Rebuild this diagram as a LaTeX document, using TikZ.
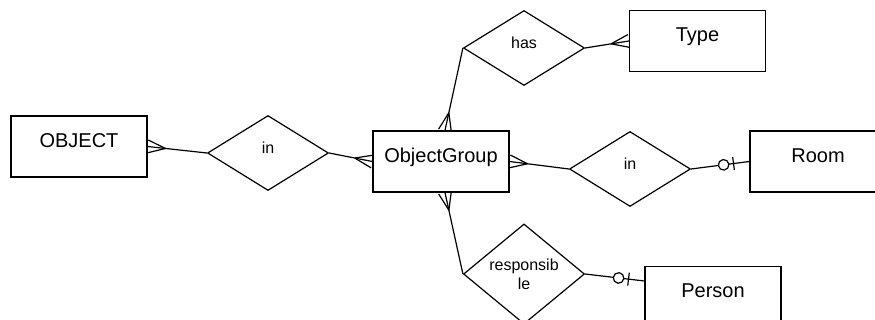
\documentclass[tikz,border=0pt]{standalone}
\usepackage{fontspec}
\setmainfont{Liberation Sans}
\usepackage{tikz}
\usetikzlibrary{shapes.geometric}
\usetikzlibrary{decorations.markings}

\tikzset{
  entity/.style={draw, rectangle, minimum width=136pt, minimum height=61pt, inner sep=0pt,
    font=\fontsize{20}{24}\selectfont, text height=14pt, text depth=12pt},
  relation/.style={draw, diamond, minimum width=121pt, minimum height=75pt, inner sep=0pt,
    font=\fontsize{16}{19}\selectfont, text height=11pt, text depth=9pt},
  manyend/.style={postaction={decorate, decoration={markings, mark=at position 1 with {
    \draw (-18pt,0pt) -- (0pt,6.5pt); \draw (-18pt,0pt) -- (0pt,-6.5pt);}}}},
  manystart/.style={postaction={decorate, decoration={markings, mark=at position 0 with {
    \draw (18pt,0pt) -- (0pt,6.5pt); \draw (18pt,0pt) -- (0pt,-6.5pt);}}}},
  zeroone/.style={postaction={decorate, decoration={markings, mark=at position 1 with {
    \draw (-16pt,-6.5pt) -- (-16pt,6.5pt); \draw[fill=white] (-26pt,0pt) circle (5.3pt);}}}}
}

\begin{document}
\begin{tikzpicture}[x=1pt, y=-1pt, line width=1.2pt]
  \useasboundingbox (0,0) rectangle (875,320);
  \clip (0,0) rectangle (875,320);
  % entities
  \node[entity] (obj) at (79,146.5) {OBJECT};
  \node[entity] (grp) at (441,161.5) {ObjectGroup};
  \node[entity] (type) at (697.5,41) {Type};
  \node[entity] (room) at (818,161.5) {Room};
  \node[entity] (person) at (713,297) {Person};
  % relationships
  \node[relation] (in1) at (268,153) {in};
  \node[relation] (has) at (524,48) {has};
  \node[relation] (in2) at (630,169) {in};
  \node[relation, align=center, text height=, text depth=] (resp) at (524,274) {responsib\\le};
  % connectors
  \draw[manystart] (obj.east) -- (in1.west);
  \draw[manyend] (in1.east) -- (grp.west);
  \draw[manystart] (grp.east) -- (in2.west);
  \draw[zeroone] (in2.east) -- (room.west);
  \draw[manystart] ([xshift=4pt]grp.north) -- (has.west);
  \draw[manyend] (has.east) -- (type.west);
  \draw[manystart] ([xshift=4pt]grp.south) -- (resp.west);
  \draw[zeroone] (resp.east) -- ([yshift=16pt]person.west);
\end{tikzpicture}
\end{document}
